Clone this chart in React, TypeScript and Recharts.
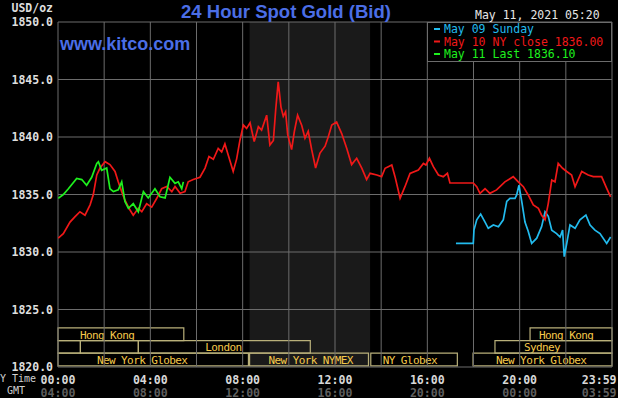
import React from 'react';
import { LineChart, Line, XAxis, YAxis, ReferenceLine, ReferenceArea } from 'recharts';

// hours since 00:00 NY time, bid prices
const may10Hours = [
  0.01, 0.23, 0.52, 0.74, 0.95, 1.17, 1.39, 1.53, 1.68, 1.82, 2.04, 2.25, 2.47, 2.61, 2.76, 2.9,
  3.12, 3.26, 3.48, 3.63, 3.84, 4.06, 4.28, 4.49, 4.71, 4.93, 5.07, 5.29, 5.5, 5.64, 5.86, 6.15,
  6.37, 6.54, 6.73, 6.94, 7.09, 7.23, 7.38, 7.59, 7.74, 7.88, 8.03, 8.17, 8.32, 8.5, 8.68, 8.82,
  9.04, 9.18, 9.33, 9.43, 9.54, 9.66, 9.76, 9.86, 9.95, 10.12, 10.24, 10.38, 10.56, 10.7, 10.84,
  10.99, 11.16, 11.35, 11.57, 11.71, 11.86, 12.07, 12.29, 12.51, 12.72, 12.94, 13.16, 13.37,
  13.52, 13.81, 14.02, 14.17, 14.46, 14.6, 14.82, 15.03, 15.25, 15.61, 15.83, 15.94, 16.09, 16.26,
  16.48, 16.69, 16.87, 16.98, 17.99, 18.14, 18.28, 18.5, 18.71, 19.0, 19.36, 19.72, 19.94, 20.16,
  20.37, 20.59, 20.81, 20.95, 21.1, 21.24, 21.39, 21.53, 21.67, 21.86, 22.04, 22.25, 22.4, 22.69,
  22.97, 23.19, 23.55, 23.77, 23.94,
];
const may10Prices = [
  1831.2, 1831.6, 1832.6, 1833.07, 1833.5, 1833.2, 1834.1, 1835.0, 1836.7, 1837.3, 1837.85, 1837.6,
  1837.0, 1836.1, 1835.25, 1834.5, 1833.65, 1833.2, 1833.8, 1833.5, 1834.2, 1833.9, 1834.67, 1835.5,
  1835.7, 1835.25, 1835.7, 1835.1, 1835.25, 1836.1, 1836.3, 1836.5, 1837.3, 1838.3, 1838.06, 1839.0,
  1838.7, 1839.4, 1838.4, 1837.0, 1838.1, 1839.7, 1841.04, 1840.75, 1841.24, 1839.6, 1840.9, 1840.6,
  1841.9, 1839.3, 1839.7, 1842.35, 1844.8, 1842.6, 1841.8, 1842.2, 1840.2, 1838.9, 1840.5, 1841.9,
  1841.0, 1839.9, 1840.5, 1838.9, 1837.3, 1838.6, 1839.2, 1840.03, 1841.04, 1841.3, 1840.3, 1839.0,
  1837.6, 1838.15, 1837.3, 1836.3, 1836.84, 1836.7, 1836.55, 1837.28, 1837.57, 1836.55, 1834.67,
  1835.68, 1836.84, 1837.13, 1837.7, 1837.57, 1838.15, 1837.42, 1836.7, 1836.55, 1836.84, 1836.0,
  1836.0, 1835.68, 1835.1, 1835.5, 1835.1, 1835.4, 1836.1, 1836.55, 1836.1, 1835.68, 1834.96,
  1834.1, 1833.8, 1833.2, 1832.8, 1834.23, 1836.26, 1836.1, 1837.7, 1837.28, 1837.0, 1836.7,
  1835.68, 1837.0, 1836.7, 1836.55, 1836.55, 1835.54, 1834.8,
];

const may11Hours = [
  0.01, 0.23, 0.45, 0.81, 1.03, 1.24, 1.46, 1.68, 1.75, 1.89, 2.11, 2.25, 2.4, 2.61, 2.76, 2.9,
  3.05, 3.26, 3.48, 3.7, 3.91, 4.2, 4.42, 4.64, 4.85, 5.07, 5.21, 5.36, 5.43,
];
const may11Prices = [
  1834.67, 1835.0, 1835.5, 1836.4, 1836.3, 1835.8, 1836.5, 1837.7, 1837.85, 1837.1, 1837.3, 1835.5,
  1835.25, 1835.4, 1836.1, 1834.4, 1833.8, 1834.2, 1833.5, 1835.25, 1834.7, 1835.5, 1834.8, 1834.7,
  1836.5, 1835.97, 1836.1, 1835.5, 1836.1,
];

const may09Hours = [
  17.24, 17.99, 18.02, 18.14, 18.31, 18.5, 18.64, 18.86, 19.08, 19.29, 19.44, 19.58, 19.8, 19.87,
  19.97, 20.09, 20.23, 20.37, 20.52, 20.74, 20.95, 21.1, 21.24, 21.39, 21.6, 21.75, 21.86, 21.93,
  22.04, 22.18, 22.4, 22.61, 22.87, 23.05, 23.26, 23.48, 23.77, 23.94,
];
const may09Prices = [
  1830.75, 1830.75, 1831.9, 1832.8, 1833.3, 1832.6, 1832.06, 1832.35, 1832.2, 1832.8, 1834.4,
  1834.67, 1834.67, 1834.96, 1835.8, 1834.4, 1832.6, 1831.8, 1830.75, 1831.2, 1832.2, 1833.5,
  1833.1, 1831.9, 1831.6, 1831.3, 1831.9, 1829.6, 1830.75, 1832.35, 1832.06, 1832.8, 1833.2,
  1832.35, 1831.9, 1831.6, 1830.75, 1831.3,
];

const seriesNames = ['May 09 Sunday', 'May 10 NY close 1836.00', 'May 11 Last 1836.10'];

const priceTicks = [1820, 1825, 1830, 1835, 1840, 1845, 1850];
const timeTicks = [0, 4, 8, 12, 16, 20, 23.983];
const nyTimeLabels = ['00:00', '04:00', '08:00', '12:00', '16:00', '20:00', '23:59'];
const gmtTimeLabels = ['04:00', '08:00', '12:00', '16:00', '20:00', '00:00', '03:59'];
const gridHours = [0, 2, 4, 6, 8, 10, 12, 14, 16, 18, 20, 22, 24];

// trading sessions (hours) and the row they sit in
const sessionNames = ['Hong Kong', '', '', 'London', 'Hong Kong', 'Sydney', 'New York Globex', 'New York NYMEX', 'NY Globex', 'New York Globex'];
const sessionStart = [0, 0, 0.97, 3.48, 20.45, 18.93, 0, 8.3, 13.55, 17.98];
const sessionEnd = [5.45, 0.97, 3.48, 10.93, 24, 24, 8.25, 13.45, 17.3, 24];
const sessionRow = [0, 1, 1, 1, 0, 1, 2, 2, 2, 2];
const nymexPit = [8.3, 13.52];

const toPoints = (hours: number[], prices: number[]) => hours.map((t, i) => ({ t, v: prices[i] }));

const CYAN = '#22bbee';
const RED = '#f01818';
const GREEN = '#1ef01e';
const GRID = '#6c6c6c';
const BLUE = '#4b6ee6';
const MONO = '"DejaVu Sans Mono", "Liberation Mono", monospace';

// label placement inside the session boxes (px from the box's left edge)
const labelInset = [22, 0, 0, 67, 9, 29, 39, 19, 12, 23];
const rowTop = [1823.4, 1822.3, 1821.2];
const rowBottom = [1822.3, 1821.2, 1820.1];

const SessionLabel = ({ viewBox, text, inset }: any) => {
  if (!text || !viewBox) return null;
  return (
    <text
      x={viewBox.x + inset}
      y={viewBox.y + viewBox.height / 2 + 1}
      dominantBaseline="central"
      fill="#f5c94a"
      fontFamily={MONO}
      fontSize={11}
      letterSpacing={-0.6}
    >
      {text}
    </text>
  );
};

const TimeTick = ({ x, y, index }: any) => {
  const last = index === timeTicks.length - 1;
  const tx = last ? x + 5 : x;
  const anchor = last ? 'end' : 'middle';
  return (
    <g>
      <text x={tx} y={y + 11} textAnchor={anchor} dominantBaseline="central" fill="#d8d8d8"
        fontFamily={MONO} fontSize={11.6} fontWeight="bold">
        {nyTimeLabels[index]}
      </text>
      <text x={tx} y={y + 23.5} textAnchor={anchor} dominantBaseline="central" fill="#5e5e5e"
        fontFamily={MONO} fontSize={11.6} fontWeight="bold">
        {gmtTimeLabels[index]}
      </text>
    </g>
  );
};

export default function App() {
  const lineColors = [CYAN, RED, GREEN];
  return (
    <div style={{ position: 'absolute', left: 0, top: 0, width: 618, height: 398, background: '#000', overflow: 'hidden' }}>
      <LineChart width={618} height={398} margin={{ top: 22, right: 6, left: 0, bottom: 0 }}>
        <XAxis
          type="number"
          dataKey="t"
          domain={[0, 24]}
          ticks={timeTicks}
          interval={0}
          height={31}
          axisLine={false}
          tickLine={false}
          tickSize={0}
          tick={<TimeTick />}
          allowDataOverflow
        />
        <YAxis
          type="number"
          domain={[1820, 1850]}
          ticks={priceTicks}
          interval={0}
          width={58}
          axisLine={false}
          tickLine={false}
          tickSize={0}
          tickMargin={5}
          tickFormatter={(v: number) => v.toFixed(1)}
          tick={{ fill: '#dedede', fontSize: 11.5, fontFamily: MONO, fontWeight: 'bold' }}
          allowDataOverflow
        />
        <ReferenceArea x1={nymexPit[0]} x2={nymexPit[1]} y1={1820} y2={1850} fill="#ffffff" fillOpacity={0.1} stroke="none" />
        {gridHours.map((h) => (
          <ReferenceLine key={`vx-${h}`} x={h} stroke={GRID} strokeWidth={1} />
        ))}
        {priceTicks.map((p) => (
          <ReferenceLine key={`hy-${p}`} y={p} stroke={GRID} strokeWidth={1} />
        ))}
        {sessionNames.map((name, i) => (
          <ReferenceArea
            key={`s-${i}`}
            x1={sessionStart[i]}
            x2={sessionEnd[i]}
            y1={rowBottom[sessionRow[i]]}
            y2={rowTop[sessionRow[i]]}
            fill="none"
            stroke="#b9b07a"
            strokeWidth={1.2}
            label={<SessionLabel text={name} inset={labelInset[i]} />}
          />
        ))}
        <Line data={toPoints(may09Hours, may09Prices)} dataKey="v" name={seriesNames[0]} stroke={CYAN}
          strokeWidth={1.7} dot={false} isAnimationActive={false} />
        <Line data={toPoints(may10Hours, may10Prices)} dataKey="v" name={seriesNames[1]} stroke={RED}
          strokeWidth={1.7} dot={false} isAnimationActive={false} />
        <Line data={toPoints(may11Hours, may11Prices)} dataKey="v" name={seriesNames[2]} stroke={GREEN}
          strokeWidth={1.7} dot={false} isAnimationActive={false} />
      </LineChart>

      <svg width={618} height={398} style={{ position: 'absolute', left: 0, top: 0, pointerEvents: 'none' }}>
        <text x={53} y={8} textAnchor="end" dominantBaseline="central" fill="#dedede" fontFamily={MONO} fontSize={11.5} fontWeight="bold">
          USD/oz
        </text>
        <text x={286} y={17.5} textAnchor="middle" fill={BLUE} fontFamily='"Liberation Sans", Arial, sans-serif'
          fontSize={18} fontWeight="bold" textLength={210} lengthAdjust="spacingAndGlyphs">
          24 Hour Spot Gold (Bid)
        </text>
        <text x={60} y={50} fill={BLUE} fontFamily='"Liberation Sans", Arial, sans-serif' fontSize={18} fontWeight="bold">
          www.kitco.com
        </text>
        <text x={475} y={15} dominantBaseline="central" fill="#e6e6e6" fontFamily={MONO} fontSize={11.5}>
          May 11, 2021 05:20
        </text>
        <rect x={427.5} y={22.5} width={184} height={39} fill="#000" stroke={GRID} />
        {seriesNames.map((n, i) => (
          <g key={n}>
            <line x1={434} x2={440} y1={29 + i * 12.5} y2={29 + i * 12.5} stroke={lineColors[i]} strokeWidth={2} />
            <text x={444} y={29 + i * 12.5} dominantBaseline="central" fill={lineColors[i]} fontFamily={MONO} fontSize={11.5}>
              {n}
            </text>
          </g>
        ))}
        <text x={0} y={378} dominantBaseline="central" fill="#d0d0d0" fontFamily={MONO} fontSize={10}>
          Y Time
        </text>
        <text x={7} y={390.5} dominantBaseline="central" fill="#d0d0d0" fontFamily={MONO} fontSize={10}>
          GMT
        </text>
      </svg>
    </div>
  );
}
